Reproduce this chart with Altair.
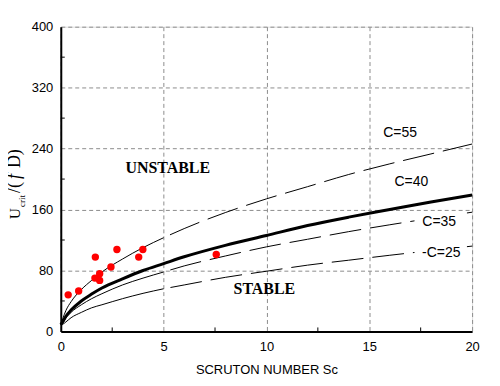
import altair as alt
import pandas as pd

# ---- data ----
sc_solid = [0, 0.1, 0.25, 0.5, 1, 1.5, 2, 3, 4, 5]
sc_dash = [5, 6, 8, 10, 12, 14, 16, 18, 20]
sc_all = [0, 0.1, 0.25, 0.5, 1, 1.5, 2, 3, 4, 5, 6, 8, 10, 12, 14, 16, 18, 20]

c55_solid = [9, 17, 27.5, 39, 55, 67, 78, 95, 110, 123]
c55_dash = [123, 135, 156, 174, 190, 206, 220, 233, 246]
c40_all = [9, 13, 20, 28, 40, 49, 57, 69, 80, 89, 98, 113, 126, 139, 150, 160, 170, 179]
c35_solid = [9, 11, 17.5, 25, 35, 43, 49.5, 61, 70, 78]
c35_dash = [78, 86, 99, 111, 121, 131, 140, 148.5, 156.5]
c25_solid = [9, 9.5, 12.5, 18, 25, 31, 35, 43, 50, 56]
c25_dash = [56, 61, 71, 79, 87, 93.5, 100, 106, 112]

pts_sc = [0.36, 0.87, 1.68, 2.73, 1.66, 1.89, 1.89, 2.44, 3.79, 3.99, 7.56]
pts_u = [48, 53, 97.6, 107.6, 70, 75.8, 67, 84.5, 97.6, 107.6, 101]

curve_labels = ["C=55", "C=40", "C=35", "-C=25"]
region_labels = ["UNSTABLE", "STABLE"]

x_ticks = [0, 5, 10, 15, 20]
y_ticks = [0, 80, 160, 240, 320, 400]
x_minor = [2.5, 7.5, 12.5, 17.5]
y_minor = [40, 120, 200, 280, 360]

# ---- annotation placement (data coordinates) ----
curve_label_x = [16.5, 17.05, 18.4, 18.5]
curve_label_y = [260, 196, 144, 103]
region_label_x = [5.2, 9.9]
region_label_y = [214, 56]
mask_x1 = [17.2, 17.2]
mask_x2 = [19.75, 19.75]
mask_y1 = [136, 95]
mask_y2 = [158, 113]

# ---- tables ----
def seg(xs, ys, name):
    return pd.DataFrame({"Sc": xs, "U": ys, "curve": name})

solid_df = pd.concat([seg(sc_solid, c55_solid, "C55"),
                      seg(sc_solid, c35_solid, "C35"),
                      seg(sc_solid, c25_solid, "C25")])
dash_df = pd.concat([seg(sc_dash, c55_dash, "C55"),
                     seg(sc_dash, c35_dash, "C35"),
                     seg(sc_dash, c25_dash, "C25")])
c40_df = seg(sc_all, c40_all, "C40")
pts_df = pd.DataFrame({"Sc": pts_sc, "U": pts_u})
clab_df = pd.DataFrame({"Sc": curve_label_x, "U": curve_label_y, "t": curve_labels})
rlab_df = pd.DataFrame({"Sc": region_label_x, "U": region_label_y, "t": region_labels})
mask_df = pd.DataFrame({"x1": mask_x1, "x2": mask_x2, "y1": mask_y1, "y2": mask_y2})
xmin_df = pd.DataFrame({"Sc": x_minor})
ymin_df = pd.DataFrame({"U": y_minor})

xscale = alt.Scale(domain=[0, 20], nice=False, zero=False)
yscale = alt.Scale(domain=[0, 400], nice=False)

X = alt.X("Sc:Q", scale=xscale,
          axis=alt.Axis(values=x_ticks, title="SCRUTON NUMBER Sc", ticks=False,
                        labelFontSize=13, labelPadding=9, titleFontSize=13,
                        titleFontWeight="normal", titlePadding=10, labelFlush=False,
                        domainColor="black", domainWidth=2,
                        gridDash=[4, 3], gridColor="#8c8c8c", gridWidth=1,
                        labelColor="black", titleColor="black",
                        labelFont="Liberation Sans", titleFont="Liberation Sans"))
Y = alt.Y("U:Q", scale=yscale,
          axis=alt.Axis(values=y_ticks, title=None, ticks=False,
                        labelFontSize=13, labelPadding=8, labelFlush=False,
                        domainColor="black", domainWidth=2,
                        gridDash=[4, 3], gridColor="#8c8c8c", gridWidth=1,
                        labelColor="black", labelFont="Liberation Sans"))

base_solid = alt.Chart(solid_df).mark_line(color="black", strokeWidth=1, interpolate="monotone").encode(
    x=X, y=Y, detail="curve:N")
base_dash = alt.Chart(dash_df).mark_line(color="black", strokeWidth=1, strokeDash=[32, 9],
                                         strokeDashOffset=34, interpolate="monotone").encode(
    x="Sc:Q", y="U:Q", detail="curve:N")
thick = alt.Chart(c40_df).mark_line(color="black", strokeWidth=3, interpolate="monotone").encode(
    x="Sc:Q", y="U:Q")
masks = alt.Chart(mask_df).mark_rect(color="white").encode(
    x="x1:Q", x2="x2:Q", y="y1:Q", y2="y2:Q")
points = alt.Chart(pts_df).mark_circle(color="#ff0000", size=55, opacity=1).encode(
    x="Sc:Q", y="U:Q")
clabels = alt.Chart(clab_df).mark_text(font="Liberation Sans", fontSize=14, color="black").encode(
    x="Sc:Q", y="U:Q", text="t:N")
rlabels = alt.Chart(rlab_df).mark_text(font="Liberation Serif", fontSize=16, fontWeight="bold",
                                       color="black").encode(
    x="Sc:Q", y="U:Q", text="t:N")
xminor = alt.Chart(xmin_df).mark_rule(color="black", strokeWidth=1).encode(
    x="Sc:Q", y=alt.value(306), y2=alt.value(302))
yminor = alt.Chart(ymin_df).mark_rule(color="black", strokeWidth=1).encode(
    y="U:Q", x=alt.value(0), x2=alt.value(4))

# y-axis title pieces (rotated)
def ytitle(txt, x, y, size, style="normal"):
    return alt.Chart(pd.DataFrame({"t": [txt]})).mark_text(
        font="Liberation Serif", fontSize=size, fontStyle=style, angle=270,
        align="left", baseline="alphabetic", color="black").encode(
        text="t:N", x=alt.value(x), y=alt.value(y))

yt = (ytitle("U", -41, 193, 15) + ytitle("crit", -36, 181, 9) +
      ytitle("/(", -41, 167, 18) + ytitle("f", -41, 153, 18, "italic") +
      ytitle("D)", -41, 142, 18))

chart = alt.layer(base_solid, base_dash, thick, masks, points, clabels, rlabels,
                  xminor, yminor, yt).properties(
    width=413, height=306,
    autosize=alt.AutoSizeParams(type="none"),
    padding={"left": 53, "top": 18, "right": 20, "bottom": 50},
).configure_view(stroke="black", strokeWidth=1.5).configure(background="white")

chart.save("out.html", embed_options={"renderer": "svg", "actions": False})
